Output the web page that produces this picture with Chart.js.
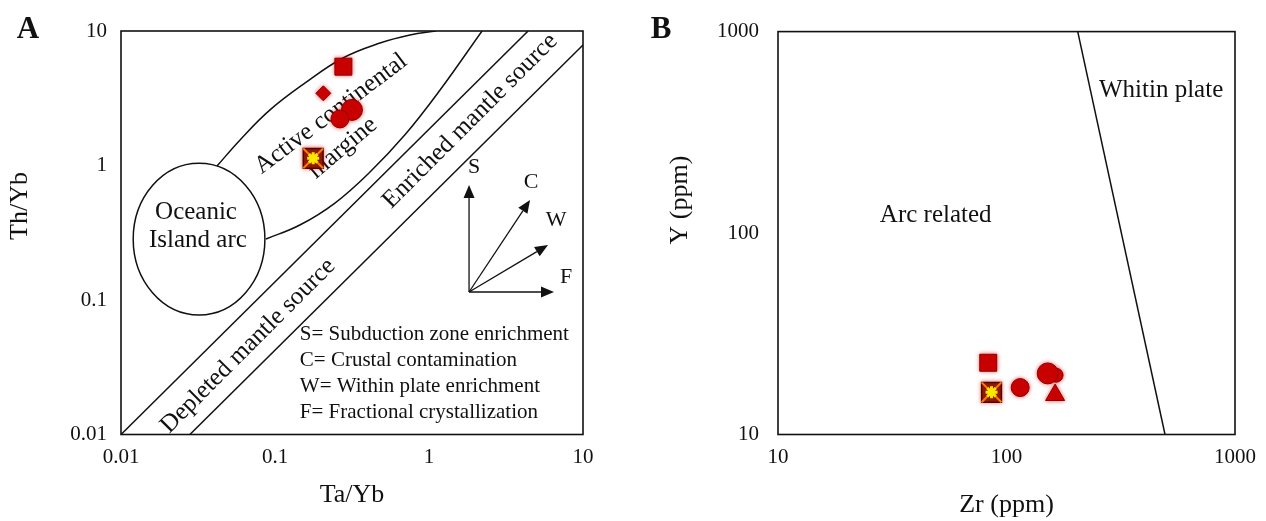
<!DOCTYPE html>
<html>
<head>
<meta charset="utf-8">
<script src="https://cdn.jsdelivr.net/npm/chart.js@4.4.0/dist/chart.umd.min.js"></script>
<style>
  html, body { margin: 0; padding: 0; background: #fff; }
  #wrap { position: relative; width: 1266px; height: 521px; }
  .painel { position: absolute; top: 0; width: 633px; height: 521px; }
  #painelA { left: 0; }
  #painelB { left: 633px; }
</style>
</head>
<body>
<div id="wrap">
  <div class="painel" id="painelA"><canvas id="graficoA" width="633" height="521"></canvas></div>
  <div class="painel" id="painelB"><canvas id="graficoB" width="633" height="521"></canvas></div>
</div>
<script>
const FONTE = '"Liberation Serif", "Times New Roman", serif'

// ---- A: Th/Yb x Ta/Yb ----
const ticksA = [0.01, 0.1, 1, 10]
const rotulosA = ['0.01', '0.1', '1', '10']
const simbolosA = ['quadrado', 'losango', 'circulo', 'circuloG', 'estrela']
const taYb = [0.278, 0.206, 0.264, 0.316, 0.177]
const thYb = [5.43, 3.44, 2.22, 2.59, 1.13]

// limites dos campos (Ta/Yb, Th/Yb)
const margemSup_x = [0.042, 0.0593, 0.0928, 0.157, 0.276, 0.481, 0.752, 1.11]
const margemSup_y = [0.99, 1.55, 2.59, 4.11, 6.30, 8.14, 9.34, 10]
const margemInf_x = [0.0874, 0.145, 0.245, 0.414, 0.698, 1.18, 2.21]
const margemInf_y = [0.284, 0.361, 0.526, 0.895, 1.69, 3.64, 10]
const mantoSup_x = [0.01, 4.4]
const mantoSup_y = [0.01, 10]
const mantoInf_x = [0.028, 10]
const mantoInf_y = [0.01, 7.87]
const arcoOceanico_x = [0.012, 0.086]
const arcoOceanico_y = [0.0773, 1.04]

const camposA = ['Active continental', 'margine', 'Enriched mantle source', 'Depleted mantle source', 'Oceanic', 'Island arc']
const camposA_x = [0.231, 0.276, 1.85, 0.0668, 0.0307, 0.0316]
const camposA_y = [2.415, 1.35, 2.14, 0.0455, 0.451, 0.279]
const camposA_ang = [-37, -40, -45, -45, 0, 0]

const vetorOrigem = [1.82, 0.1147]
const vetores = ['S', 'C', 'W', 'F']
const vetorPonta_x = [1.82, 4.53, 5.93, 6.48]
const vetorPonta_y = [0.716, 0.554, 0.2565, 0.1147]
const vetorTexto_x = [1.96, 4.6, 6.68, 7.76]
const vetorTexto_y = [0.975, 0.754, 0.393, 0.148]
const legendaA = ['S= Subduction zone enrichment', 'C= Crustal contamination', 'W= Within plate enrichment', 'F= Fractional crystallization']
const legendaA_pos = [0.145, 0.055]

// ---- B: Y x Zr ----
const ticksB = [10, 100, 1000]
const rotulosB = ['10', '100', '1000']
const simbolosB = ['quadrado', 'estrela', 'circulo', 'circuloG', 'circuloP', 'triangulo']
const zr = [83.2, 86.0, 114.8, 151.5, 164.8, 163.2]
const yPpm = [22.7, 16.2, 17.1, 20.1, 19.7, 15.7]
const divisa_x = [205, 494]
const divisa_y = [1000, 10]
const camposB = ['Arc related', 'Whitin plate']
const camposB_x = [49, 475]
const camposB_y = [122, 510]

const ESTILOS = {
    quadrado: {pointStyle: 'rect', r: 12},
    losango: {pointStyle: 'rectRot', r: 7.5},
    circulo: {pointStyle: 'circle', r: 9},
    circuloG: {pointStyle: 'circle', r: 10.5},
    circuloP: {pointStyle: 'circle', r: 7},
    triangulo: {pointStyle: 'triangle', r: 11},
}

function monta_pontos(xs, ys, simbolos){
    var ds = []
    for(let i = 0; i < xs.length; i++){
        let p = [{x: xs[i], y: ys[i]}]
        if(simbolos[i] == 'estrela'){
            ds.push({data: p, pointStyle: 'star', pointRadius: 6, pointBorderColor: '#ffe600', pointBorderWidth: 3, order: 0})
            ds.push({data: p, pointStyle: 'crossRot', pointRadius: 14, pointBorderColor: '#ff7a00', pointBorderWidth: 2, order: 1})
            ds.push({data: p, pointStyle: 'rect', pointRadius: 14, pointBackgroundColor: '#8a1a05', pointBorderColor: '#4a0a00', pointBorderWidth: 1.5, order: 2, brilho: true})
        } else {
            let e = ESTILOS[simbolos[i]]
            ds.push({data: p, pointStyle: e.pointStyle, pointRadius: e.r, pointBackgroundColor: '#c80000', pointBorderColor: '#8a0000', pointBorderWidth: 1, order: 3, brilho: true})
        }
    }
    return ds
}

function monta_linha(xs, ys, curva){
    return {
        data: xs.map((x, i) => ({x: x, y: ys[i]})),
        showLine: true, pointRadius: 0, borderColor: '#111', borderWidth: 1.5,
        tension: curva ? 0.4 : 0, order: 10
    }
}

function eixo(ticks, rotulos, fixo, pad, titulo, padTitulo, horizontal){
    return {
        type: 'logarithmic',
        min: ticks[0],
        max: ticks[ticks.length - 1],
        afterBuildTicks: (s) => { s.ticks = ticks.map(v => ({value: v})) },
        afterFit: (s) => { if(horizontal){ s.height = fixo } else { s.width = fixo } },
        grid: {display: false, drawTicks: false},
        border: {display: false},
        ticks: {
            padding: pad, color: '#111', autoSkip: false, maxRotation: 0,
            font: {family: FONTE, size: 21},
            callback: (v) => rotulos[ticks.findIndex(t => Math.abs(t - v) < t * 1e-6)]
        },
        title: {display: !!titulo, text: titulo, color: '#111', font: {family: FONTE, size: 26}, padding: {top: 0, bottom: padTitulo}}
    }
}

function texto(ctx, txt, x, y, ang, fonte, alinha){
    ctx.save()
    ctx.translate(x, y)
    ctx.rotate(ang * Math.PI / 180)
    ctx.font = fonte
    ctx.fillStyle = '#111'
    ctx.textAlign = alinha || 'center'
    ctx.textBaseline = 'middle'
    ctx.fillText(txt, 0, 0)
    ctx.restore()
}

function seta(ctx, x0, y0, x1, y1){
    const ang = Math.atan2(y1 - y0, x1 - x0), tam = 13, lar = 5.5
    const bx = x1 - tam * Math.cos(ang), by = y1 - tam * Math.sin(ang)
    ctx.beginPath()
    ctx.moveTo(x0, y0)
    ctx.lineTo(bx, by)
    ctx.stroke()
    ctx.beginPath()
    ctx.moveTo(x1, y1)
    ctx.lineTo(bx + lar * Math.sin(ang), by - lar * Math.cos(ang))
    ctx.lineTo(bx - lar * Math.sin(ang), by + lar * Math.cos(ang))
    ctx.closePath()
    ctx.fill()
}

// halo vermelho leve em volta dos simbolos
const brilho = {
    id: 'brilho',
    beforeDatasetDraw(chart, args){
        if(!chart.data.datasets[args.index].brilho) return
        chart.ctx.save()
        chart.ctx.shadowColor = 'rgba(230, 0, 0, 0.55)'
        chart.ctx.shadowBlur = 4
    },
    afterDatasetDraw(chart, args){
        if(!chart.data.datasets[args.index].brilho) return
        chart.ctx.restore()
    }
}

// moldura, letra do painel e titulo do eixo y
function moldura(letra, tituloY, posTitulo){
    return {
        id: 'moldura' + letra,
        afterDatasetsDraw(chart){
            const {ctx, chartArea: a} = chart
            ctx.save()
            ctx.strokeStyle = '#111'
            ctx.lineWidth = 1.6
            ctx.strokeRect(a.left, a.top, a.right - a.left, a.bottom - a.top)
            ctx.restore()
            texto(ctx, letra, 28, 30, 0, `bold 31px ${FONTE}`)
            texto(ctx, tituloY, posTitulo[0], posTitulo[1], -90, `26px ${FONTE}`)
        }
    }
}

const desenhosA = {
    id: 'desenhosA',
    beforeDatasetsDraw(chart){
        const {ctx, scales: {x, y}} = chart
        ctx.save()
        ctx.strokeStyle = '#111'
        ctx.fillStyle = '#111'
        ctx.lineWidth = 1.5
        // elipse do arco de ilhas
        let ex0 = x.getPixelForValue(arcoOceanico_x[0]), ex1 = x.getPixelForValue(arcoOceanico_x[1])
        let ey0 = y.getPixelForValue(arcoOceanico_y[0]), ey1 = y.getPixelForValue(arcoOceanico_y[1])
        ctx.beginPath()
        ctx.ellipse((ex0 + ex1) / 2, (ey0 + ey1) / 2, (ex1 - ex0) / 2, Math.abs(ey0 - ey1) / 2, 0, 0, 2 * Math.PI)
        ctx.stroke()
        for(let i = 0; i < camposA.length; i++){
            texto(ctx, camposA[i], x.getPixelForValue(camposA_x[i]), y.getPixelForValue(camposA_y[i]), camposA_ang[i], `25px ${FONTE}`)
        }
        // vetores S, C, W, F
        ctx.lineWidth = 1.3
        let ox = x.getPixelForValue(vetorOrigem[0]), oy = y.getPixelForValue(vetorOrigem[1])
        for(let i = 0; i < vetores.length; i++){
            seta(ctx, ox, oy, x.getPixelForValue(vetorPonta_x[i]), y.getPixelForValue(vetorPonta_y[i]))
            texto(ctx, vetores[i], x.getPixelForValue(vetorTexto_x[i]), y.getPixelForValue(vetorTexto_y[i]), 0, `22px ${FONTE}`)
        }
        let lx = x.getPixelForValue(legendaA_pos[0]), ly = y.getPixelForValue(legendaA_pos[1])
        for(let i = 0; i < legendaA.length; i++){
            texto(ctx, legendaA[i], lx, ly + i * 26, 0, `21px ${FONTE}`, 'left')
        }
        ctx.restore()
    }
}

const desenhosB = {
    id: 'desenhosB',
    beforeDatasetsDraw(chart){
        const {ctx, scales: {x, y}} = chart
        for(let i = 0; i < camposB.length; i++){
            texto(ctx, camposB[i], x.getPixelForValue(camposB_x[i]), y.getPixelForValue(camposB_y[i]), 0, `25px ${FONTE}`)
        }
    }
}

function renderiza_A(){
    const ctx = document.getElementById('graficoA').getContext('2d')
    const datasets = [
        monta_linha(margemSup_x, margemSup_y, true),
        monta_linha(margemInf_x, margemInf_y, true),
        monta_linha(mantoSup_x, mantoSup_y, false),
        monta_linha(mantoInf_x, mantoInf_y, false),
    ].concat(monta_pontos(taYb, thYb, simbolosA))
    new Chart(ctx, {
        type: 'scatter',
        data: {datasets: datasets},
        options: {
            responsive: false, animation: false, events: [],
            layout: {padding: {top: 31, right: 50, left: 0, bottom: 0}},
            plugins: {legend: {display: false}, tooltip: {enabled: false}},
            scales: {
                x: eixo(ticksA, rotulosA, 86.5, 10, 'Ta/Yb', 10, true),
                y: eixo(ticksA, rotulosA, 121, 14, '', 0, false)
            }
        },
        plugins: [brilho, desenhosA, moldura('A', 'Th/Yb', [20, 206])]
    })
}

function renderiza_B(){
    const ctx = document.getElementById('graficoB').getContext('2d')
    const datasets = [monta_linha(divisa_x, divisa_y, false)].concat(monta_pontos(zr, yPpm, simbolosB))
    new Chart(ctx, {
        type: 'scatter',
        data: {datasets: datasets},
        options: {
            responsive: false, animation: false, events: [],
            layout: {padding: {top: 31, right: 30, left: 0, bottom: 0}},
            plugins: {legend: {display: false}, tooltip: {enabled: false}},
            scales: {
                x: eixo(ticksB, rotulosB, 86.5, 10, 'Zr (ppm)', 0, true),
                y: eixo(ticksB, rotulosB, 145, 19, '', 0, false)
            }
        },
        plugins: [brilho, desenhosB, moldura('B', 'Y (ppm)', [47, 200])]
    })
}

renderiza_A()
renderiza_B()
</script>
</body>
</html>
